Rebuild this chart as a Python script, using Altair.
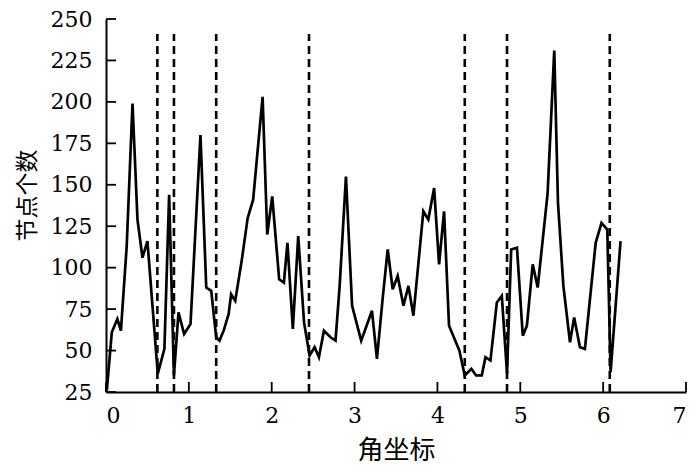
import altair as alt
import pandas as pd

# data
angle = [0.01, 0.07, 0.137, 0.18, 0.25, 0.32, 0.38, 0.44, 0.50, 0.625, 0.705, 0.762, 0.82, 0.875,
         0.943, 1.02, 1.14, 1.21, 1.27, 1.33, 1.37, 1.42, 1.48, 1.51, 1.56, 1.64, 1.71, 1.776, 1.82,
         1.89, 1.946, 2.006, 2.09, 2.147, 2.19, 2.255, 2.32, 2.39, 2.457, 2.518, 2.57, 2.63, 2.71,
         2.77, 2.82, 2.896, 2.97, 3.08, 3.21, 3.27, 3.34, 3.40, 3.46, 3.52, 3.59, 3.65, 3.71, 3.83,
         3.89, 3.96, 4.02, 4.08, 4.14, 4.265, 4.33, 4.41, 4.467, 4.535, 4.58, 4.64, 4.717, 4.777,
         4.84, 4.89, 4.96, 5.03, 5.08, 5.15, 5.21, 5.33, 5.41, 5.455, 5.52, 5.60, 5.65, 5.72, 5.78,
         5.91, 5.98, 6.05, 6.09, 6.21]
nodes = [26, 61, 69, 62, 113, 199, 129, 106, 116, 36, 51, 144, 35, 73,
         60, 66, 180, 88, 86, 58, 56, 62, 72, 84, 80, 105, 130, 141, 165,
         203, 120, 143, 93, 91, 115, 63, 119, 67, 47, 52, 46, 62, 58,
         56, 89, 155, 77, 56, 74, 45, 82, 111, 87, 95, 77, 89, 71, 134,
         129, 148, 102, 134, 65, 50, 35, 39, 35, 35, 46, 44, 79, 83,
         36, 111, 112, 59, 65, 102, 88, 145, 231, 139, 89, 55, 70, 52, 51,
         115, 127, 123, 37, 116]
split_x = [0.62, 0.82, 1.33, 2.45, 4.33, 4.84, 6.08]
split_top = 241
x_ticks = [0, 1, 2, 3, 4, 5, 6, 7]
y_ticks = [25, 50, 75, 100, 125, 150, 175, 200, 225, 250]

W, H = 580, 373
df = pd.DataFrame({"angle": angle, "nodes": nodes, "i": list(range(len(angle)))})
splits = pd.DataFrame({"x": split_x, "y0": [25] * len(split_x), "y1": [split_top] * len(split_x)})
xt = pd.DataFrame({"t": x_ticks})
yt = pd.DataFrame({"t": y_ticks})

serif = "DejaVu Serif"
cjk = "Noto Sans CJK SC"
xscale = alt.Scale(domain=[0, 7], nice=False)
yscale = alt.Scale(domain=[25, 250], nice=False)

common = dict(tickSize=0, grid=False, domainColor="black", domainWidth=2,
              labelFont=serif, labelFontSize=22, labelColor="black",
              titleFont=cjk, titleFontWeight="normal", titleColor="black")

line = alt.Chart(df).mark_line(color="black", strokeWidth=2.7).encode(
    x=alt.X("angle:Q", scale=xscale,
            axis=alt.Axis(title="角坐标", values=x_ticks, format="d", labelPadding=13,
                          titlePadding=11, titleFontSize=26, **common)),
    y=alt.Y("nodes:Q", scale=yscale,
            axis=alt.Axis(title="节点个数", values=y_ticks, format="d", labelPadding=14,
                          titlePadding=11, titleFontSize=23, titleY=176, **common)),
    order="i:Q",
)

dashes = alt.Chart(splits).mark_rule(color="black", strokeWidth=2.6, strokeDash=[8, 5]).encode(
    x=alt.X("x:Q", scale=xscale), y=alt.Y("y0:Q", scale=yscale), y2="y1:Q"
)

xtick = alt.Chart(xt).mark_rule(color="black", strokeWidth=1.8).encode(
    x=alt.X("t:Q", scale=xscale), y=alt.value(H), y2=alt.value(H - 10)
)
ytick = alt.Chart(yt).mark_rule(color="black", strokeWidth=1.8).encode(
    y=alt.Y("t:Q", scale=yscale), x=alt.value(0), x2=alt.value(10)
)

chart = alt.layer(line, dashes, xtick, ytick).properties(
    width=W, height=H,
    autosize=alt.AutoSizeParams(type="none"),
    padding={"left": 98, "top": 11, "right": 6, "bottom": 73},
).configure_view(stroke=None)

chart.save("out.html", embed_options={"renderer": "svg", "actions": False})
